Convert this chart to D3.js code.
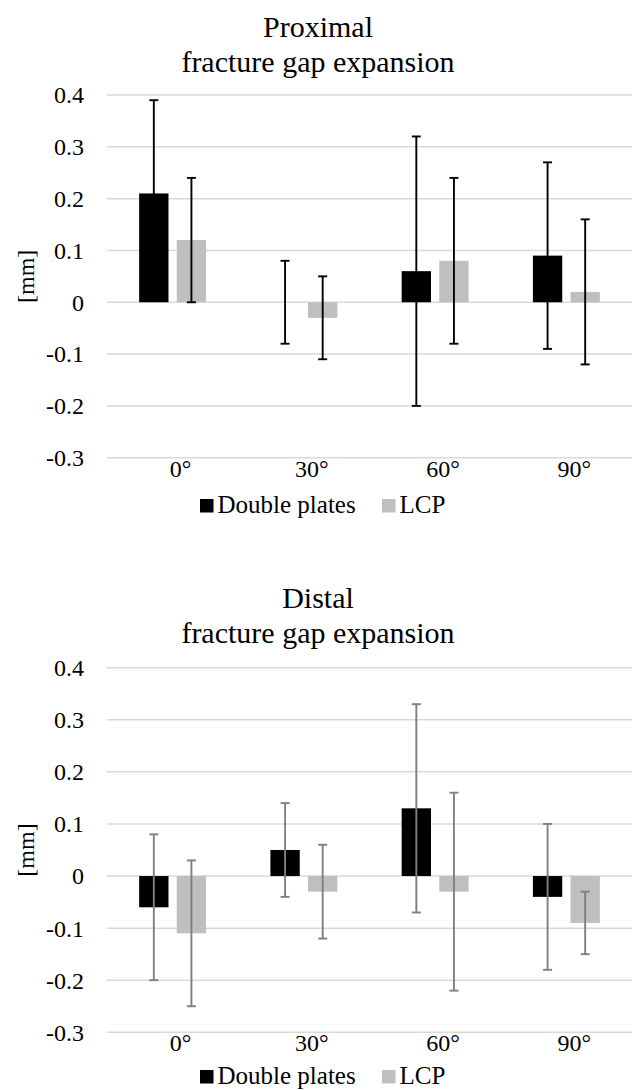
<!DOCTYPE html>
<html>
<head>
<meta charset="utf-8">
<script src="https://cdn.jsdelivr.net/npm/d3@7"></script>
<style>
  html, body { margin: 0; padding: 0; background: #fff; }
  svg { display: block; }
  svg text { font-family: 'Liberation Serif', 'Times New Roman', Tinos, 'DejaVu Serif', serif; }
</style>
</head>
<body>
<svg id="chart" width="633" height="1090"></svg>
<script>
// ---- data ----
const categories = ["0°", "30°", "60°", "90°"];
const seriesNames = ["Double plates", "LCP"];
const yTicks = [-0.3, -0.2, -0.1, 0, 0.1, 0.2, 0.3, 0.4];
const yTickLabels = ["-0.3", "-0.2", "-0.1", "0", "0.1", "0.2", "0.3", "0.4"];

const proximalDouble = [0.21, 0.00, 0.06, 0.09];
const proximalDoubleErr = [0.18, 0.08, 0.26, 0.18];
const proximalLCP = [0.12, -0.03, 0.08, 0.02];
const proximalLCPErr = [0.12, 0.08, 0.16, 0.14];

const distalDouble = [-0.06, 0.05, 0.13, -0.04];
const distalDoubleErr = [0.14, 0.09, 0.20, 0.14];
const distalLCP = [-0.11, -0.03, -0.03, -0.09];
const distalLCPErr = [0.14, 0.09, 0.19, 0.06];

const charts = [
  { title: ["Proximal", "fracture gap expansion"], values: [proximalDouble, proximalLCP],
    errors: [proximalDoubleErr, proximalLCPErr], top: 95, bottom: 457.7,
    titleY: [36.7, 71.7], labelY: 477, legendY: 513, errColor: "#000" },
  { title: ["Distal", "fracture gap expansion"], values: [distalDouble, distalLCP],
    errors: [distalDoubleErr, distalLCPErr], top: 667.7, bottom: 1032.3,
    titleY: [608, 643], labelY: 1051, legendY: 1084, errColor: "#7f7f7f" }
];

const colors = ["#000000", "#bfbfbf"];
const FONT = "'Liberation Serif', 'Times New Roman', Tinos, 'DejaVu Serif', serif";
const svg = d3.select("#chart").attr("font-family", FONT);
const plotLeft = 107, plotRight = 632;

const x0 = d3.scaleBand().domain(categories).range([plotLeft, plotRight])
  .paddingInner(0.49).paddingOuter(0.245);
const x1 = d3.scaleBand().domain(seriesNames).range([0, x0.bandwidth()]).paddingInner(0.22);

charts.forEach(c => {
  const g = svg.append("g");
  const y = d3.scaleLinear().domain([-0.3, 0.4]).range([c.bottom, c.top]);

  // title
  c.title.forEach((t, i) => {
    g.append("text").attr("x", 318).attr("y", c.titleY[i]).attr("font-family", FONT)
      .attr("text-anchor", "middle").attr("font-size", 30).attr("fill", "#000").text(t);
  });

  // gridlines
  g.append("g").selectAll("line").data(yTicks).join("line")
    .attr("x1", plotLeft).attr("x2", plotRight)
    .attr("y1", d => y(d)).attr("y2", d => y(d))
    .attr("stroke", "#d9d9d9").attr("stroke-width", 1.5);

  // y tick labels
  g.append("g").selectAll("text").data(yTicks).join("text")
    .attr("x", 84).attr("y", d => y(d)).attr("font-family", FONT)
    .attr("dy", "0.35em")
    .attr("text-anchor", "end").attr("font-size", 24).attr("fill", "#000")
    .text((d, i) => yTickLabels[i]);

  // y axis title
  const midY = (c.top + c.bottom) / 2;
  g.append("text").attr("transform", `translate(26,${midY}) rotate(-90)`).attr("font-family", FONT)
    .attr("text-anchor", "middle").attr("dy", "0.35em")
    .attr("font-size", 24).attr("fill", "#000").text("[mm]");

  // bars
  const rows = [];
  seriesNames.forEach((s, si) => {
    categories.forEach((cat, ci) => {
      rows.push({ s, si, cat, v: c.values[si][ci], e: c.errors[si][ci] });
    });
  });

  g.append("g").selectAll("rect").data(rows).join("rect")
    .attr("x", d => x0(d.cat) + x1(d.s))
    .attr("width", x1.bandwidth())
    .attr("y", d => y(Math.max(0, d.v)))
    .attr("height", d => Math.abs(y(d.v) - y(0)))
    .attr("fill", d => colors[d.si]);

  // error bars
  const eg = g.append("g").attr("stroke", c.errColor).attr("stroke-width", 1.9);
  const cap = 4.5;
  rows.forEach(d => {
    const cx = x0(d.cat) + x1(d.s) + x1.bandwidth() / 2;
    const yHi = y(d.v + d.e), yLo = y(d.v - d.e);
    eg.append("line").attr("x1", cx).attr("x2", cx).attr("y1", yHi).attr("y2", yLo);
    eg.append("line").attr("x1", cx - cap).attr("x2", cx + cap).attr("y1", yHi).attr("y2", yHi);
    eg.append("line").attr("x1", cx - cap).attr("x2", cx + cap).attr("y1", yLo).attr("y2", yLo);
  });

  // category labels
  g.append("g").selectAll("text").data(categories).join("text")
    .attr("x", d => x0(d) + x0.bandwidth() / 2 + 8)
    .attr("y", c.labelY).attr("font-family", FONT)
    .attr("text-anchor", "middle").attr("font-size", 24).attr("fill", "#000")
    .text(d => d);

  // legend
  const legendX = [200, 382];
  seriesNames.forEach((s, i) => {
    g.append("rect").attr("x", legendX[i]).attr("y", c.legendY - 14)
      .attr("width", 13.5).attr("height", 13.5).attr("fill", colors[i]);
    g.append("text").attr("x", legendX[i] + 17.5).attr("y", c.legendY).attr("font-family", FONT)
      .attr("font-size", 25).attr("fill", "#000").text(s);
  });
});
</script>
</body>
</html>
